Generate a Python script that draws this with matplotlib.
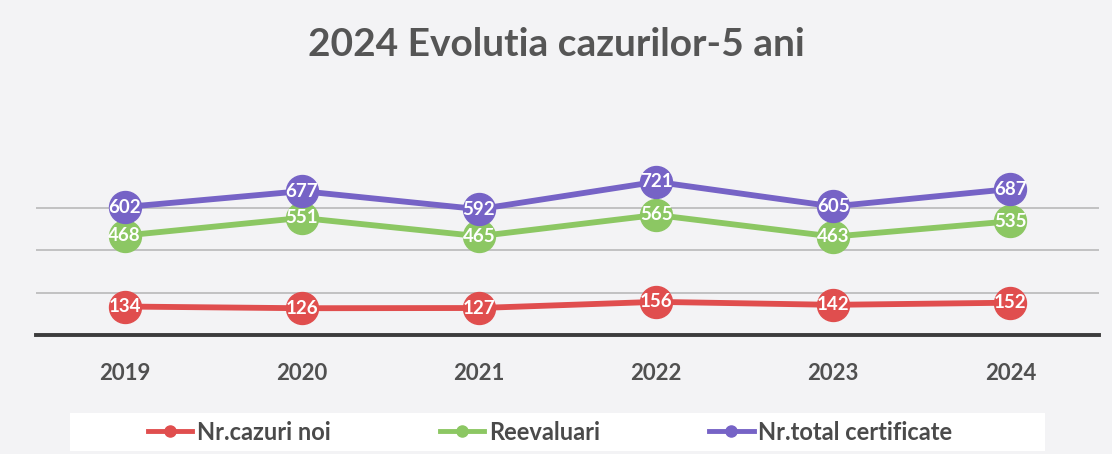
import matplotlib
matplotlib.use("Agg")
import matplotlib.pyplot as plt
from matplotlib.patches import Rectangle
from matplotlib.lines import Line2D

years = ["2019", "2020", "2021", "2022", "2023", "2024"]
cazuri_noi = [134, 126, 127, 156, 142, 152]
reevaluari = [468, 551, 465, 565, 463, 535]
total_cert = [602, 677, 592, 721, 605, 687]
series_names = ["Nr.cazuri noi", "Reevaluari", "Nr.total certificate"]
title = "2024 Evolutia cazurilor-5 ani"

colors = ["#E04E4E", "#8CC763", "#7663C6"]
FONT = ["Lato", "DejaVu Sans"]
plt.rcParams["font.family"] = FONT

fig = plt.figure(figsize=(11.12, 4.54), dpi=100, facecolor="#f3f3f5")
W, H = 1112, 454

# plot area in pixel coords
left, right, bottom, top = 36, 1099, 335, 165
ax = fig.add_axes([left / W, 1 - bottom / H, (right - left) / W, (bottom - top) / H])
ax.set_facecolor("none")

x = list(range(len(years)))
ax.set_xlim(-0.5, len(years) - 0.5)
ax.set_ylim(0, 800)

for yv in [200, 400, 600]:
    ax.axhline(yv, color="#b4b4b4", lw=1.1, zorder=1)
ax.axhline(0, color="#3c3c3c", lw=2.8, zorder=2, clip_on=False)

for vals, c in zip([cazuri_noi, reevaluari, total_cert], colors):
    ax.plot(x, vals, color=c, lw=4.2, marker="o", ms=23, mfc=c, mec=c, zorder=3,
            solid_capstyle="round")
    for xi, v in zip(x, vals):
        ax.text(xi, v, str(v), ha="center", va="center", color="white",
                fontsize=13.5, fontweight="bold", zorder=4)

for s in ax.spines.values():
    s.set_visible(False)
ax.set_yticks([])
ax.set_xticks(x)
ax.set_xticklabels(years, fontsize=16, color="#505050", fontweight="bold")
ax.tick_params(axis="x", length=0, pad=20)

fig.text(0.5, 1 - 45 / H, title, ha="center", va="center", fontsize=28,
         color="#555555", fontweight="bold")

# legend box
fig.patches.append(Rectangle((70 / W, 1 - 451 / H), (1045 - 70) / W, 38 / H,
                             transform=fig.transFigure, facecolor="white",
                             edgecolor="none", zorder=0))
handles = [Line2D([0], [0], color=c, lw=3.5, marker="o", ms=8, mfc=c, mec=c)
           for c in colors]
leg = fig.legend(handles, series_names, loc="center", ncol=3,
                 bbox_to_anchor=(550 / W, 1 - 432 / H), frameon=False,
                 fontsize=17, handlelength=1.9, handletextpad=0.2,
                 columnspacing=4.6)
for t in leg.get_texts():
    t.set_color("#4a4a4a")
    t.set_fontweight("bold")

fig.savefig("out.png", dpi=100, facecolor=fig.get_facecolor())
